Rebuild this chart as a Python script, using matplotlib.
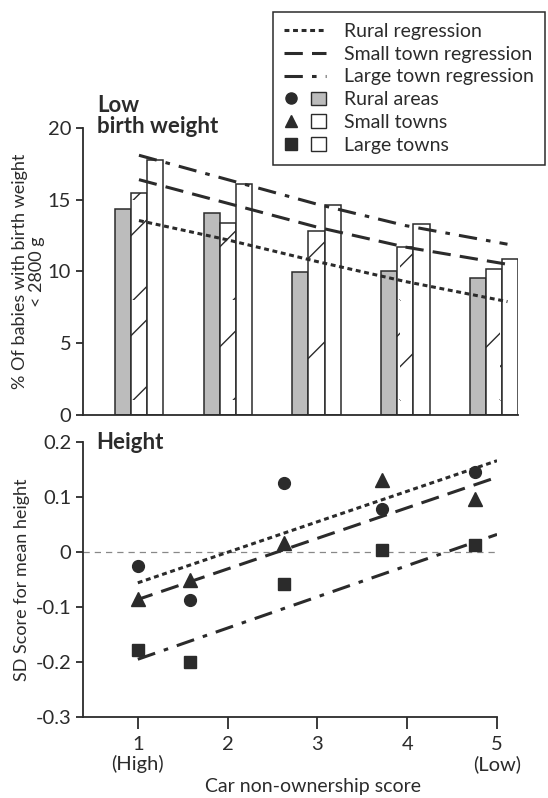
import matplotlib
matplotlib.use("Agg")
import matplotlib.pyplot as plt
from matplotlib.path import Path
from matplotlib.lines import Line2D
from matplotlib.patches import Patch
from matplotlib.legend_handler import HandlerTuple

# sparser hatching, like the printed figure
_hatch = Path.hatch
Path.hatch = staticmethod(lambda h, density=6: _hatch(h, 3))

plt.rcParams['font.family'] = ['Lato', 'DejaVu Sans']
plt.rcParams['axes.unicode_minus'] = False
plt.rcParams['hatch.linewidth'] = 1.0

INK = '#2b2b2b'

# ---- data: low birth weight (%) by car non-ownership group
groups = [1, 2, 3, 4, 5]
rural_lbw = [14.35, 14.05, 9.95, 10.05, 9.55]
small_lbw = [15.45, 13.4, 12.8, 11.7, 10.15]
large_lbw = [17.8, 16.1, 14.65, 13.3, 10.9]

reg_x_top = [1.0, 2.0, 3.0, 4.0, 5.15]
rural_reg_top = [13.55, 12.2, 10.7, 9.3, 7.9]
small_reg_top = [16.4, 14.75, 13.1, 11.7, 10.5]
large_reg_top = [18.1, 16.4, 14.7, 13.2, 11.9]

# ---- data: SD score for mean height
score_x = [1.0, 1.58, 2.63, 3.72, 4.76]
rural_h = [-0.025, -0.088, 0.125, 0.078, 0.145]
small_h = [-0.085, -0.05, 0.016, 0.131, 0.096]
large_h = [-0.178, -0.2, -0.058, 0.003, 0.013]

rural_reg_x = [1.0, 5.0]
rural_reg_y = [-0.056, 0.166]
small_reg_x = [0.97, 5.0]
small_reg_y = [-0.088, 0.136]
large_reg_x = [1.0, 5.0]
large_reg_y = [-0.195, 0.032]

xticks = [1, 2, 3, 4, 5]
xticklabels = ['1\n(High)', '2', '3', '4', '5\n(Low)']

ls_rural = (0, (1.6, 1.2))
ls_small = (0, (6, 3))
ls_large = (0, (6, 3, 1.5, 3))

fig = plt.figure(figsize=(5.48, 7.98), dpi=100)
ax1 = fig.add_axes([0.1515, 0.48, 0.794, 0.3596])
ax2 = fig.add_axes([0.1515, 0.1015, 0.7555, 0.3446])

for ax in (ax1, ax2):
    for s in ('top', 'right'):
        ax.spines[s].set_visible(False)
    for s in ('left', 'bottom'):
        ax.spines[s].set_color(INK)
        ax.spines[s].set_linewidth(1.3)
    ax.tick_params(colors=INK, labelsize=14.5, width=1.3, length=5)

# ---- top panel
w = 0.182
off = [-w, 0, w]
ax1.bar([g + off[0] for g in groups], rural_lbw, w, facecolor='#bcbcbc',
        edgecolor=INK, linewidth=1.1)
ax1.bar([g + off[1] for g in groups], small_lbw, w, facecolor='white',
        edgecolor=INK, linewidth=1.1, hatch='/')
ax1.bar([g + off[2] for g in groups], large_lbw, w, facecolor='white',
        edgecolor=INK, linewidth=1.1)
ax1.plot(reg_x_top, rural_reg_top, color=INK, lw=2.2, ls=ls_rural)
ax1.plot(reg_x_top, small_reg_top, color=INK, lw=2.2, ls=ls_small)
ax1.plot(reg_x_top, large_reg_top, color=INK, lw=2.2, ls=ls_large)
ax1.set_xlim(0.37, 5.27)
ax1.set_ylim(0, 20)
ax1.set_yticks([0, 5, 10, 15, 20])
ax1.set_xticks([])
ax1.set_ylabel('% Of babies with birth weight\n< 2800 g', fontsize=13,
               color=INK, labelpad=2, linespacing=1.1)
ax1.text(0.033, 1.115, 'Low\nbirth weight', transform=ax1.transAxes,
         fontsize=16, fontweight='bold', color=INK, va='top',
         linespacing=1.0)

# ---- bottom panel
ax2.axhline(0, color='#888888', lw=0.9, ls=(0, (5, 4)))
ax2.plot(score_x, rural_h, 'o', color=INK, ms=8.5)
ax2.plot(score_x, small_h, '^', color=INK, ms=10)
ax2.plot(score_x, large_h, 's', color=INK, ms=8.5)
ax2.plot(rural_reg_x, rural_reg_y, color=INK, lw=2.2, ls=ls_rural)
ax2.plot(small_reg_x, small_reg_y, color=INK, lw=2.2, ls=ls_small)
ax2.plot(large_reg_x, large_reg_y, color=INK, lw=2.2, ls=ls_large)
ax2.set_xlim(0.39, 5.0)
ax2.set_ylim(-0.3, 0.2)
ax2.set_yticks([-0.3, -0.2, -0.1, 0, 0.1, 0.2])
ax2.set_yticklabels(['-0.3', '-0.2', '-0.1', '0', '0.1', '0.2'])
ax2.set_xticks(xticks)
ax2.set_xticklabels(xticklabels, linespacing=1.15)
ax2.tick_params(axis='x', length=8.5, pad=5)
ax2.set_ylabel('SD Score for mean height', fontsize=13, color=INK,
               labelpad=4)
ax2.set_xlabel('Car non-ownership score', fontsize=14, color=INK)
ax2.xaxis.set_label_coords(0.556, -0.222)
ax2.text(0.033, 1.0, 'Height', transform=ax2.transAxes, fontsize=16,
         fontweight='bold', color=INK, va='center')

# ---- legend
handles = [
    Line2D([], [], color=INK, lw=2.2, ls=ls_rural),
    Line2D([], [], color=INK, lw=2.2, ls=ls_small),
    Line2D([], [], color=INK, lw=2.2, ls=ls_large),
    (Line2D([], [], marker='o', color=INK, ls='none', ms=8),
     Patch(facecolor='#bcbcbc', edgecolor=INK, lw=1)),
    (Line2D([], [], marker='^', color=INK, ls='none', ms=9),
     Patch(facecolor='white', edgecolor=INK, lw=1, hatch='/')),
    (Line2D([], [], marker='s', color=INK, ls='none', ms=8),
     Patch(facecolor='white', edgecolor=INK, lw=1)),
]
labels = ['Rural regression', 'Small town regression',
          'Large town regression', 'Rural areas', 'Small towns',
          'Large towns']
leg = fig.legend(handles, labels, loc='upper left',
                 bbox_to_anchor=(273 / 548, 1 - 12 / 798),
                 handler_map={tuple: HandlerTuple(ndivide=None, pad=0.6)},
                 fontsize=14, frameon=True, fancybox=False, framealpha=1,
                 edgecolor=INK, handlelength=2.2, handletextpad=0.9,
                 labelspacing=0.3, borderpad=0.55, borderaxespad=0)
leg.get_frame().set_linewidth(1.1)
for t in leg.get_texts():
    t.set_color(INK)

fig.savefig('out.png', dpi=100, facecolor='white')
